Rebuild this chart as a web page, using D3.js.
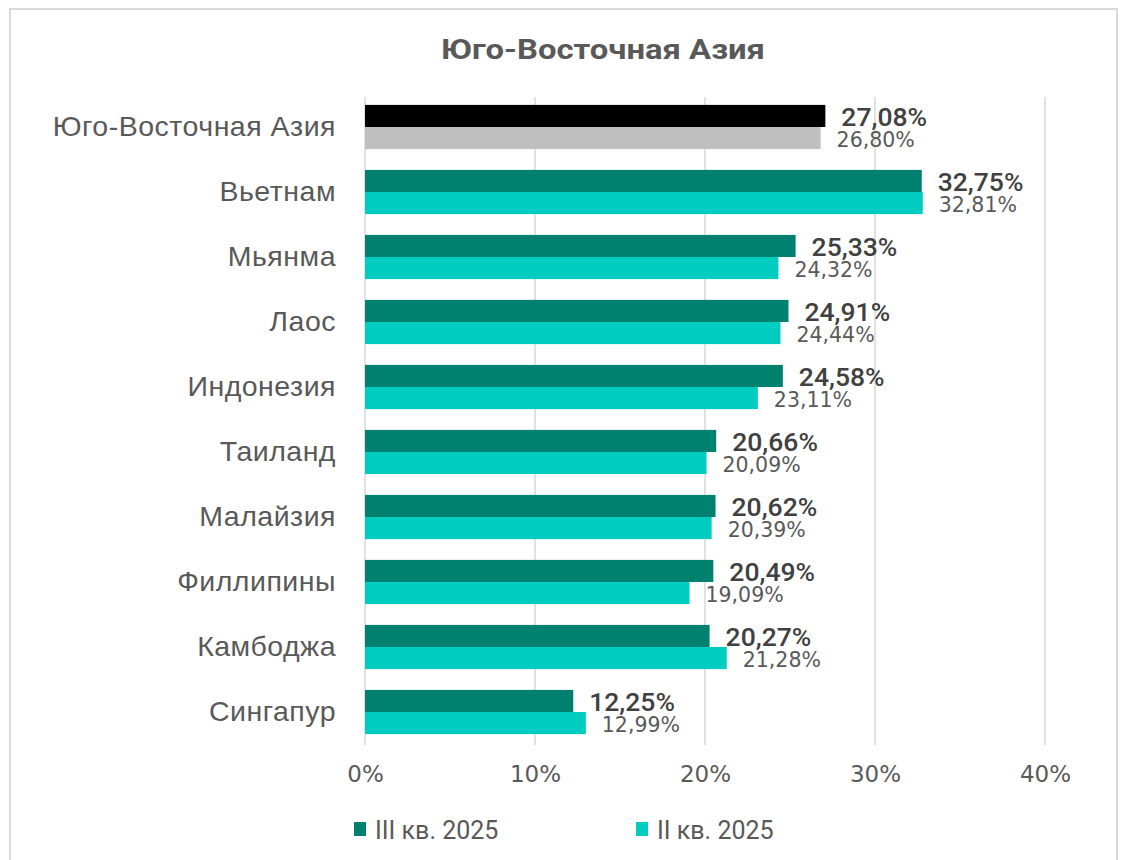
<!DOCTYPE html>
<html><head><meta charset="utf-8">
<script src="https://cdn.jsdelivr.net/npm/d3@7"></script>
<style>
html,body{margin:0;padding:0;background:#fff;}
svg{display:block;}
</style></head>
<body>
<svg id="chart" width="1122" height="860"></svg>
<script>
const categories = ["Юго-Восточная Азия","Вьетнам","Мьянма","Лаос","Индонезия","Таиланд","Малайзия","Филлипины","Камбоджа","Сингапур"];
const seriesQ3 = [27.08,32.75,25.33,24.91,24.58,20.66,20.62,20.49,20.27,12.25];
const seriesQ2 = [26.80,32.81,24.32,24.44,23.11,20.09,20.39,19.09,21.28,12.99];
const seriesNames = ["III кв. 2025","II кв. 2025"];
const xTicks = [0,10,20,30,40];
const title = "Юго-Восточная Азия";

const svg = d3.select("#chart");
const colQ3 = "#00806E", colQ2 = "#00CCC0";
const colTotQ3 = "#000000", colTotQ2 = "#BFBFBF";

// border
svg.append("rect").attr("x",10).attr("y",9).attr("width",1107).attr("height",870)
  .attr("fill","#fff").attr("stroke","#d9d9d9").attr("stroke-width",2);

const x = d3.scaleLinear().domain([0,40]).range([365,1045]);
const y = d3.scaleBand().domain(categories).range([94.5,744.5]).paddingInner(0.32).paddingOuter(0.16);
const bw = y.bandwidth()/2;

// title
svg.append("text").attr("x",603).attr("y",59).attr("text-anchor","middle")
  .attr("font-family","Roboto, 'Liberation Sans', sans-serif").attr("font-weight","bold")
  .attr("font-size",27).attr("fill","#595959").attr("textLength",324).attr("lengthAdjust","spacingAndGlyphs")
  .text(title);

// grid
svg.append("g").selectAll("line").data(xTicks).join("line")
  .attr("x1",d=>x(d)).attr("x2",d=>x(d)).attr("y1",97).attr("y2",745)
  .attr("stroke","#d9d9d9").attr("stroke-width",1.5);

// axis labels
const xAxis = d3.axisBottom(x).tickValues(xTicks).tickFormat(d=>d+"%").tickSize(0).tickPadding(0);
const ax = svg.append("g").attr("transform","translate(0,766)").call(xAxis);
ax.select(".domain").remove();
ax.selectAll("text").attr("font-family","'DejaVu Sans', sans-serif").attr("font-size",23).attr("fill","#595959").attr("dy","0.71em");

// category labels
const yAxis = d3.axisLeft(y).tickSize(0).tickPadding(0);
const ay = svg.append("g").attr("transform","translate(336,0)").call(yAxis);
ay.select(".domain").remove();
ay.selectAll("text").attr("font-family","'Liberation Sans', Arial, sans-serif").attr("font-size",28.5)
  .attr("letter-spacing",0.5).attr("fill","#595959");

// bars
const data = categories.map((c,i)=>({c,i,q3:seriesQ3[i],q2:seriesQ2[i]}));
const g = svg.append("g");
g.selectAll(".b3").data(data).join("rect")
  .attr("x",x(0)).attr("y",d=>y(d.c)).attr("width",d=>x(d.q3)-x(0)).attr("height",bw)
  .attr("fill",d=>d.i===0?colTotQ3:colQ3);
g.selectAll(".b2").data(data).join("rect")
  .attr("x",x(0)).attr("y",d=>y(d.c)+bw).attr("width",d=>x(d.q2)-x(0)).attr("height",bw)
  .attr("fill",d=>d.i===0?colTotQ2:colQ2);

const fmt = v => v.toFixed(2).replace(".",",")+"%";
g.selectAll(".l3").data(data).join("text")
  .attr("x",d=>x(d.q3)+16).attr("y",d=>y(d.c)+bw/2+1).attr("dy","0.36em")
  .attr("font-family","Roboto, sans-serif").attr("font-weight",500).attr("font-size",26.5)
  .attr("fill","#404040").text(d=>fmt(d.q3));
g.selectAll(".l2").data(data).join("text")
  .attr("x",d=>x(d.q2)+16).attr("y",d=>y(d.c)+bw*1.5+1.5).attr("dy","0.36em")
  .attr("font-family","'DejaVu Sans', sans-serif").attr("font-size",20.5)
  .attr("fill","#595959").text(d=>fmt(d.q2));

// legend
const leg = svg.append("g");
const legX = [354,636];
seriesNames.forEach((n,i)=>{
  leg.append("rect").attr("x",legX[i]).attr("y",822).attr("width",12).attr("height",14).attr("fill",i===0?colQ3:colQ2);
  leg.append("text").attr("x",legX[i]+21).attr("y",829.5).attr("dy","0.36em")
    .attr("font-family","Roboto, sans-serif").attr("font-size",25).attr("fill","#595959").text(n);
});
</script>
</body></html>
